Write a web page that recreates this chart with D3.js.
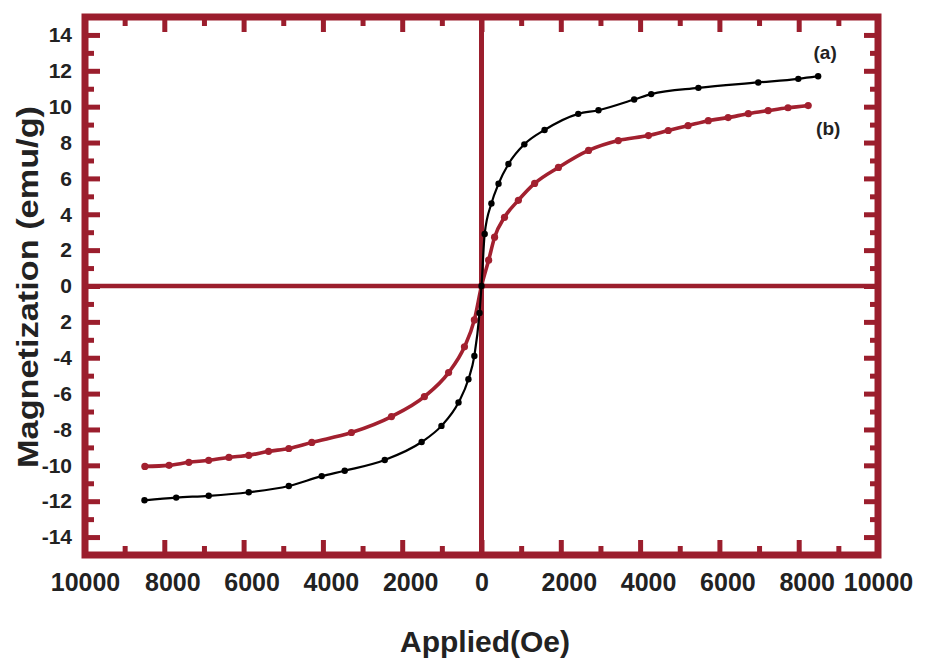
<!DOCTYPE html>
<html>
<head>
<meta charset="utf-8">
<script src="https://cdn.jsdelivr.net/npm/d3@7"></script>
<style>
  body { margin: 0; background: #fff; }
  svg text { font-family: "Liberation Sans", Arial, sans-serif; font-weight: bold; fill: #222; }
</style>
</head>
<body>
<div id="chart"></div>
<script>
// sample (a) - black
const fieldA = [-8500, -7700, -6880, -5870, -4860, -4030, -3450, -2440, -1510, -1010, -580, -330, -180, -50, 0,
  80, 250, 430, 680, 1080, 1590, 2440, 2950, 3850, 4280, 5470, 6980, 7990, 8490];
const momentA = [-11.95, -11.8, -11.7, -11.5, -11.15, -10.6, -10.3, -9.7, -8.7, -7.8, -6.5, -5.2, -3.9, -1.5, 0,
  2.9, 4.6, 5.7, 6.8, 7.9, 8.7, 9.6, 9.8, 10.4, 10.7, 11.05, 11.35, 11.55, 11.7];

// sample (b) - red
const fieldB = [-8490, -7880, -7380, -6880, -6370, -5870, -5370, -4860, -4280, -3280, -2270, -1440, -830, -430, -180, 0,
  180, 330, 580, 930, 1340, 1940, 2700, 3450, 4210, 4710, 5210, 5720, 6220, 6730, 7230, 7730, 8240];
const momentB = [-10.06, -10.0, -9.83, -9.72, -9.56, -9.44, -9.22, -9.06, -8.72, -8.17, -7.28, -6.17, -4.83, -3.39, -1.89, 0,
  1.44, 2.72, 3.83, 4.78, 5.72, 6.61, 7.56, 8.11, 8.39, 8.67, 8.94, 9.22, 9.39, 9.61, 9.78, 9.94, 10.06];

// ticks
const xMajorTicks = [-10000, -8000, -6000, -4000, -2000, 0, 2000, 4000, 6000, 8000, 10000];
const xMinorTicks = [-9000, -7000, -5000, -3000, -1000, 1000, 3000, 5000, 7000, 9000];
const xTickLabels = ['10000', '8000', '6000', '4000', '2000', '0', '2000', '4000', '6000', '8000', '10000'];
const yMajorTicks = [-14, -12, -10, -8, -6, -4, -2, 0, 2, 4, 6, 8, 10, 12, 14];
const yMinorTicks = [-13, -11, -9, -7, -5, -3, -1, 1, 3, 5, 7, 9, 11, 13];
const yTickLabels = ['-14', '-12', '-10', '-8', '-6', '-4', '2', '0', '2', '4', '6', '8', '10', '12', '14'];
const seriesLabels = ['(a)', '(b)'];

const frameColor = '#9b1e2d';
const redColor = '#a2202f';

const margin = { top: 17, right: 54, bottom: 108, left: 85 };
const w = 932 - margin.left - margin.right;
const h = 663 - margin.top - margin.bottom;

const xScale = d3.scaleLinear().domain([-10000, 10000]).range([0, w]);
const yScale = d3.scaleLinear().domain([-15, 15]).range([h, 0]);

const svg = d3.select('#chart').append('svg')
  .attr('width', 932)
  .attr('height', 663)
  .append('g')
  .attr('transform', `translate(${ margin.left }, ${ margin.top })`);

// tick helper: inward ticks, no domain line
function addAxis(axis, tx, ty) {
  const g = svg.append('g')
    .attr('transform', `translate(${ tx }, ${ ty })`)
    .call(axis);
  g.select('.domain').remove();
  g.selectAll('.tick line')
    .attr('stroke', frameColor)
    .attr('stroke-width', 5);
  return g;
}

// bottom
const xBottom = addAxis(d3.axisBottom(xScale).tickValues(xMajorTicks).tickSizeInner(-15).tickSizeOuter(0)
  .tickPadding(18).tickFormat((d, i) => xTickLabels[i]), 0, h);
xBottom.selectAll('text')
  .attr('dx', d => d === 0 || Math.abs(d) === 10000 ? 0 : 8)
  .style('font-size', '25px')
  .style('font-family', '"Liberation Sans", Arial, sans-serif');
addAxis(d3.axisBottom(xScale).tickValues(xMinorTicks).tickSizeInner(-9).tickSizeOuter(0).tickFormat(''), 0, h);

// top
addAxis(d3.axisTop(xScale).tickValues(xMajorTicks).tickSizeInner(-15).tickSizeOuter(0).tickFormat(''), 0, 0);
addAxis(d3.axisTop(xScale).tickValues(xMinorTicks).tickSizeInner(-9).tickSizeOuter(0).tickFormat(''), 0, 0);

// left
const yLeft = addAxis(d3.axisLeft(yScale).tickValues(yMajorTicks).tickSizeInner(-15).tickSizeOuter(0)
  .tickPadding(13).tickFormat((d, i) => yTickLabels[i]), 0, 0);
yLeft.selectAll('text')
  .style('font-size', '21px')
  .style('font-family', '"Liberation Sans", Arial, sans-serif');
addAxis(d3.axisLeft(yScale).tickValues(yMinorTicks).tickSizeInner(-9).tickSizeOuter(0).tickFormat(''), 0, 0);

// right
addAxis(d3.axisRight(yScale).tickValues(yMajorTicks).tickSizeInner(-14).tickSizeOuter(0).tickFormat(''), w, 0);
addAxis(d3.axisRight(yScale).tickValues(yMinorTicks).tickSizeInner(-8).tickSizeOuter(0).tickFormat(''), w, 0);

// frame
svg.append('rect')
  .attr('width', w)
  .attr('height', h)
  .attr('fill', 'none')
  .attr('stroke', frameColor)
  .attr('stroke-width', 7);

// zero lines
svg.append('line')
  .attr('x1', 0).attr('x2', w)
  .attr('y1', yScale(0)).attr('y2', yScale(0))
  .attr('stroke', frameColor)
  .attr('stroke-width', 4.5);
svg.append('line')
  .attr('x1', xScale(0)).attr('x2', xScale(0))
  .attr('y1', 0).attr('y2', h)
  .attr('stroke', frameColor)
  .attr('stroke-width', 5);

// curves
const seriesA = fieldA.map((d, i) => ({ x: d, y: momentA[i] }));
const seriesB = fieldB.map((d, i) => ({ x: d, y: momentB[i] }));

const line = d3.line()
  .x(d => xScale(d.x))
  .y(d => yScale(d.y))
  .curve(d3.curveMonotoneX);

svg.append('path')
  .datum(seriesB)
  .attr('d', line)
  .attr('fill', 'none')
  .attr('stroke', redColor)
  .attr('stroke-width', 3.6);

svg.selectAll('.dotB')
  .data(seriesB)
  .enter()
  .append('circle')
    .attr('class', 'dotB')
    .attr('cx', d => xScale(d.x))
    .attr('cy', d => yScale(d.y))
    .attr('r', 3.6)
    .attr('fill', redColor);

svg.append('path')
  .datum(seriesA)
  .attr('d', line)
  .attr('fill', 'none')
  .attr('stroke', '#000')
  .attr('stroke-width', 2.2);

svg.selectAll('.dotA')
  .data(seriesA)
  .enter()
  .append('circle')
    .attr('class', 'dotA')
    .attr('cx', d => xScale(d.x))
    .attr('cy', d => yScale(d.y))
    .attr('r', 3.2)
    .attr('fill', '#000');

// series labels
const lastA = seriesA[seriesA.length - 1];
const lastB = seriesB[seriesB.length - 1];
svg.append('text')
  .attr('x', xScale(lastA.x) + 7)
  .attr('y', yScale(lastA.y) - 17)
  .style('text-anchor', 'middle')
  .style('font-size', '19px')
  .text(seriesLabels[0]);
svg.append('text')
  .attr('x', xScale(lastB.x) + 20)
  .attr('y', yScale(lastB.y) + 29)
  .style('text-anchor', 'middle')
  .style('font-size', '19px')
  .text(seriesLabels[1]);

// axis titles
svg.append('text')
  .attr('x', 485 - margin.left)
  .attr('y', 652 - margin.top)
  .style('text-anchor', 'middle')
  .style('font-size', '30px')
  .text('Applied(Oe)');

svg.append('text')
  .attr('transform', `translate(${ 38 - margin.left }, ${ 287 - margin.top }) rotate(-90)`)
  .attr('textLength', 362)
  .attr('lengthAdjust', 'spacingAndGlyphs')
  .style('text-anchor', 'middle')
  .style('font-size', '30px')
  .text('Magnetization (emu/g)');
</script>
</body>
</html>
